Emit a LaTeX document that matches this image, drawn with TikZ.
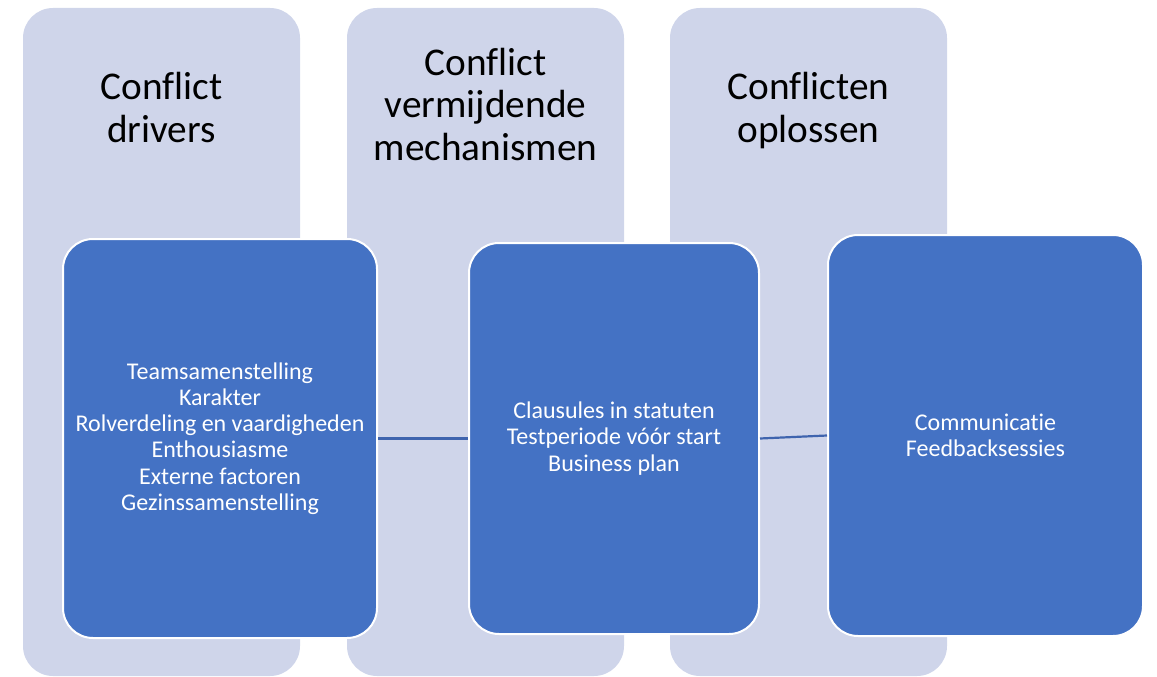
\documentclass[tikz,border=0pt]{standalone}
\usepackage{fontspec}
\setmainfont[Ligatures=NoCommon]{Carlito}
\definecolor{colbg}{HTML}{CFD5EA}
\definecolor{boxbl}{HTML}{4472C4}
\definecolor{linebl}{HTML}{3F64AE}
\begin{document}
\begin{tikzpicture}[x=1pt,y=-1pt,
  column/.style={rounded corners=30pt,fill=colbg,draw=none,minimum width=277pt,minimum height=668pt,inner sep=0pt},
  card/.style={rounded corners=30pt,fill=boxbl,draw=white,line width=2pt,inner sep=0pt,text=white,align=center,font=\fontsize{24}{26.2}\selectfont},
  title/.style={align=center,anchor=base,inner sep=0pt,font=\fontsize{39.3}{42.2}\selectfont,text=black},
  link/.style={draw=linebl,line width=2.2pt}]
\useasboundingbox (0,0) rectangle (1157,677);
\node[column] (c1) at (161.5,342) {};
\node[column] (c2) at (485.5,342) {};
\node[column] (c3) at (808.5,342) {};
\node[title] (t1) at (161.5,142) {Conflict\\drivers};
\node[title] (t2) at (485.5,160) {Conflict\\vermijdende\\mechanismen};
\node[title] (t3) at (808.5,142) {Conflicten\\oplossen};
\node[card,minimum width=314pt,minimum height=399pt] (b1) at (220,438.5) {Teamsamenstelling\\Karakter\\Rolverdeling en vaardigheden\\Enthousiasme\\Externe factoren\\Gezinssamenstelling};
\node[card,minimum width=290pt,minimum height=391pt] (b2) at (614,438.5) {Clausules in statuten\\Testperiode vóór start\\Business plan};
\node[card,minimum width=315pt,minimum height=401pt] (b3) at (985.5,435.5) {Communicatie\\Feedbacksessies};
\draw[link] (b1.east) -- (b2.west);
\draw[link] (b2.east) -- (b3.west);
\end{tikzpicture}
\end{document}
